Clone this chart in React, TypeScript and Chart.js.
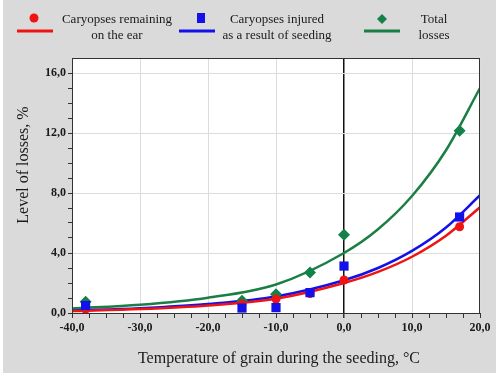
import React, { useEffect, useRef } from "react";
import { Chart, registerables } from "chart.js";

Chart.register(...registerables);

// Measured points
const tempPoints = [-38, -15, -10, -5, 0, 17];
const remainingValues = [0.25, 0.6, 0.93, 1.3, 2.2, 5.75];
const injuredValues = [0.5, 0.33, 0.36, 1.36, 3.13, 6.4];
const totalValues = [0.75, 0.82, 1.25, 2.7, 5.22, 12.15];

// Fitted curves
const curveTemps = [-40, -30, -20, -10, 0, 5, 10, 15, 20];
const remainingCurve = [0.13, 0.26, 0.5, 0.95, 2.0, 2.74, 3.75, 5.15, 7.05];
const injuredCurve = [0.16, 0.32, 0.6, 1.1, 2.18, 3.0, 4.14, 5.7, 7.85];
const totalCurve = [0.3, 0.55, 1.02, 1.9, 4.0, 5.58, 7.8, 10.85, 15.0];

const xTickMin = -40;
const xTickMax = 20;
const yTickMax = 17;

const legendLabels = [
  ["Caryopses remaining", "on the ear"],
  ["Caryopses injured", "as a result of seeding"],
  ["Total", "losses"],
];
const xTitle = "Temperature of grain during the seeding, °C";
const yTitle = "Level of losses, %";

const RED = "#ee1414";
const BLUE = "#1212e8";
const GREEN = "#1b7f45";
const GREEN_MARK = "#14804a";

const fmt = (v: number) => v.toFixed(1).replace(".", ",");

export default function App() {
  const ref = useRef<HTMLCanvasElement | null>(null);

  useEffect(() => {
    document.body.style.margin = "0";
    const canvas = ref.current!;
    const pts = (ys: number[]) => tempPoints.map((x, i) => ({ x, y: ys[i] }));
    const curve = (ys: number[]) => curveTemps.map((x, i) => ({ x, y: ys[i] }));

    const bgPlugin = {
      id: "bg",
      beforeDraw(chart: any) {
        const { ctx, chartArea: a } = chart;
        ctx.save();
        ctx.fillStyle = "#ffffff";
        ctx.fillRect(0, 0, chart.width, chart.height);
        ctx.fillStyle = "#dadada";
        ctx.fillRect(3, 0, 493, 373);
        ctx.fillStyle = "#ffffff";
        ctx.fillRect(a.left, a.top, a.right - a.left, a.bottom - a.top);
        ctx.restore();
      },
      afterDraw(chart: any) {
        const { ctx, chartArea: a } = chart;
        ctx.save();
        ctx.strokeStyle = "#333";
        ctx.lineWidth = 1;
        ctx.strokeRect(a.left + 0.5, a.top + 0.5, a.right - a.left - 1, a.bottom - a.top);
        // titles
        ctx.fillStyle = "#1a1a1a";
        ctx.font = "16px 'Liberation Serif', serif";
        ctx.textAlign = "center";
        ctx.textBaseline = "middle";
        ctx.fillText(xTitle, 279, 359);
        ctx.save();
        ctx.translate(24, 165);
        ctx.rotate(-Math.PI / 2);
        ctx.fillText(yTitle, 0, 0);
        ctx.restore();
        // legend
        ctx.font = "13px 'Liberation Serif', serif";
        const textX = [117, 277, 434];
        const lineX = [17, 179, 364];
        const colors = [RED, BLUE, GREEN];
        legendLabels.forEach((lines, i) => {
          ctx.fillStyle = "#1a1a1a";
          ctx.fillText(lines[0], textX[i], 20);
          ctx.fillText(lines[1], textX[i], 36);
          ctx.strokeStyle = colors[i];
          ctx.lineWidth = 3;
          ctx.beginPath();
          ctx.moveTo(lineX[i], 31);
          ctx.lineTo(lineX[i] + 36, 31);
          ctx.stroke();
        });
        // legend markers
        ctx.fillStyle = RED;
        ctx.beginPath();
        ctx.arc(34, 18, 4.5, 0, Math.PI * 2);
        ctx.fill();
        ctx.fillStyle = BLUE;
        ctx.fillRect(197, 13, 8, 10);
        ctx.fillStyle = GREEN_MARK;
        ctx.beginPath();
        ctx.moveTo(382, 14);
        ctx.lineTo(387, 19);
        ctx.lineTo(382, 24);
        ctx.lineTo(377, 19);
        ctx.closePath();
        ctx.fill();
        ctx.restore();
      },
    };

    const chart = new Chart(canvas, {
      type: "scatter",
      data: {
        datasets: [
          { type: "line", data: curve(totalCurve), borderColor: GREEN, borderWidth: 2.5, pointRadius: 0, cubicInterpolationMode: "monotone", fill: false, order: 6 } as any,
          { type: "line", data: curve(injuredCurve), borderColor: BLUE, borderWidth: 2.5, pointRadius: 0, cubicInterpolationMode: "monotone", fill: false, order: 5 } as any,
          { type: "line", data: curve(remainingCurve), borderColor: RED, borderWidth: 2.5, pointRadius: 0, cubicInterpolationMode: "monotone", fill: false, order: 4 } as any,
          { data: pts(totalValues), pointStyle: "rectRot", pointRadius: 6, backgroundColor: GREEN_MARK, borderWidth: 0, order: 3 },
          { data: pts(remainingValues), pointStyle: "circle", pointRadius: 4.5, backgroundColor: RED, borderWidth: 0, order: 2 },
          { data: pts(injuredValues), pointStyle: "rect", pointRadius: 6.5, backgroundColor: BLUE, borderWidth: 0, order: 1 },
        ],
      },
      options: {
        animation: false,
        responsive: false,
        events: [],
        layout: { padding: { left: 0, right: 20, top: 58, bottom: 0 } },
        plugins: { legend: { display: false }, tooltip: { enabled: false } },
        scales: {
          x: {
            type: "linear",
            min: xTickMin,
            max: xTickMax,
            afterFit: (s: any) => { s.height = 65; },
            border: { display: false },
            grid: {
              color: (c: any) => (c.tick && c.tick.value === 0 ? "#111" : c.tick && c.tick.value % 10 === 0 ? "#dcdcdc" : "rgba(0,0,0,0)"),
              lineWidth: (c: any) => (c.tick && c.tick.value === 0 ? 1.5 : 1),
              tickColor: "#333",
              tickLength: 5,
              drawTicks: true,
            },
            ticks: {
              stepSize: 2.5,
              autoSkip: false,
              maxRotation: 0,
              padding: 3,
              color: "#1a1a1a",
              font: { family: "'Liberation Serif', serif", size: 12, weight: "bold" },
              callback: (v: any) => (Number(v) % 10 === 0 ? fmt(Number(v)) : ""),
            },
          },
          y: {
            type: "linear",
            min: 0,
            max: yTickMax,
            afterFit: (s: any) => { s.width = 72; },
            border: { display: false },
            grid: {
              color: (c: any) => (c.tick && c.tick.value % 4 === 0 && c.tick.value !== 0 ? "#dcdcdc" : "rgba(0,0,0,0)"),
              tickColor: (c: any) => (c.tick && c.tick.value === yTickMax ? "rgba(0,0,0,0)" : "#333"),
              tickLength: 4,
              drawTicks: true,
            },
            ticks: {
              stepSize: 1,
              autoSkip: false,
              padding: 2,
              color: "#1a1a1a",
              font: { family: "'Liberation Serif', serif", size: 12, weight: "bold" },
              callback: (v: any) => (Number(v) % 4 === 0 ? fmt(Number(v)) : ""),
            },
          },
        },
      } as any,
      plugins: [bgPlugin],
    });
    return () => chart.destroy();
  }, []);

  return (
    <div style={{ width: 500, height: 378 }}>
      <canvas ref={ref} width={500} height={378} style={{ display: "block" }} />
    </div>
  );
}
